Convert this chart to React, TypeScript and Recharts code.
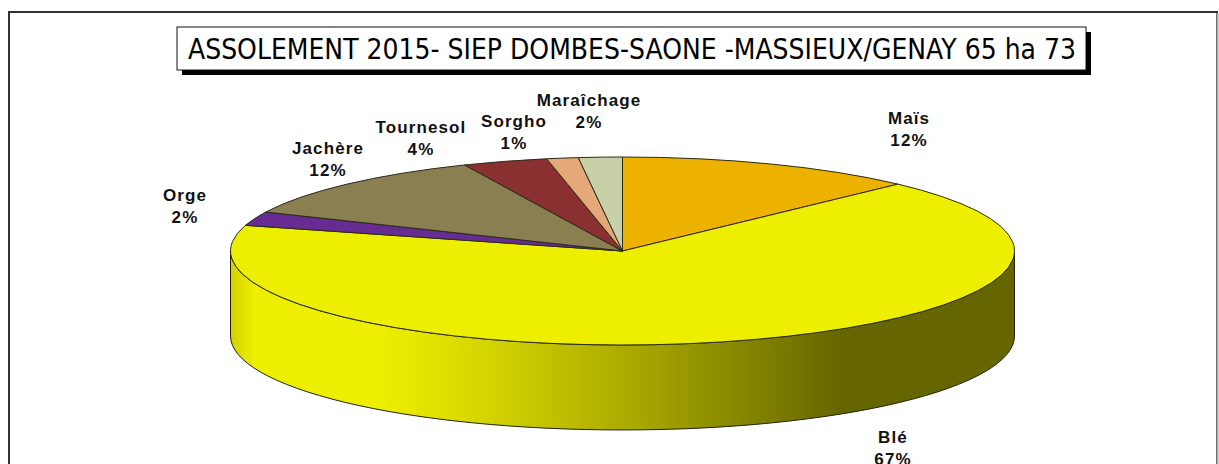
import { Pie, PieChart } from 'recharts';

const categories = ['Maïs', 'Blé', 'Orge', 'Jachère', 'Tournesol', 'Sorgho', 'Maraîchage'];
const shares = [12.4, 67, 2.4, 11.6, 3.5, 1.3, 1.8];
const sliceColors = ['#EDB100', '#EEEE00', '#662C91', '#8A7F50', '#8A3030', '#E5A878', '#C8D0A8'];
const titleText = 'ASSOLEMENT 2015- SIEP DOMBES-SAONE -MASSIEUX/GENAY 65 ha 73';

const data = categories.map((name, i) => ({ name, value: shares[i], fill: sliceColors[i] }));

// where Excel left each data label (centre of the name line)
const labelSpots = [
  [909, 118],
  [893, 437],
  [185, 195],
  [328, 148],
  [421, 127],
  [514, 121],
  [589, 100],
];

const CX = 622.5;
const CY = 251;
const RX = 392;
const RY = 94;
const DEPTH = 85;

const pt = (angle: number, dy = 0) => {
  const a = (angle * Math.PI) / 180;
  return [CX + RX * Math.cos(a), CY + dy - RY * Math.sin(a)];
};

function TopSlice(props: any) {
  const { startAngle, endAngle, fill } = props;
  const [x1, y1] = pt(startAngle);
  const [x2, y2] = pt(endAngle);
  const large = Math.abs(startAngle - endAngle) > 180 ? 1 : 0;
  const d = `M${CX},${CY} L${x1},${y1} A${RX},${RY} 0 ${large} 1 ${x2},${y2} Z`;
  return <path d={d} fill={fill} stroke="#2b2b1a" strokeWidth={1} strokeLinejoin="round" />;
}

// only the part of a slice facing the viewer gets a wall
function WallSlice(props: any) {
  const from = Math.min(props.startAngle, 0);
  const to = Math.max(props.endAngle, -180);
  if (from <= to) return <g />;
  const [x1, y1] = pt(from);
  const [x2, y2] = pt(to);
  const [x3, y3] = pt(to, DEPTH);
  const [x4, y4] = pt(from, DEPTH);
  const d = `M${x1},${y1} A${RX},${RY} 0 0 1 ${x2},${y2} L${x3},${y3} A${RX},${RY} 0 0 0 ${x4},${y4} Z`;
  return <path d={d} fill="url(#wallShade)" stroke="#22220a" strokeWidth={1} />;
}

function SliceLabel(props: any) {
  const { index, name, percent } = props;
  const [x, y] = labelSpots[index];
  const style = { fontFamily: 'Liberation Sans', fontWeight: 700, fontSize: 17, letterSpacing: 1.1, fill: '#111' };
  return (
    <g>
      <text x={x} y={y} dy={6} textAnchor="middle" style={style}>{name}</text>
      <text x={x} y={y + 22} dy={6} textAnchor="middle" style={style}>{`${Math.round(percent * 100)}%`}</text>
    </g>
  );
}

export default function App() {
  return (
    <div style={{ position: 'absolute', left: 0, top: 0, width: 1219, height: 464, background: '#fff' }}>
      <PieChart width={1219} height={464} margin={{ top: 0, right: 0, bottom: 0, left: 0 }}>
        <defs>
          <linearGradient id="wallShade" gradientUnits="userSpaceOnUse" x1={231} y1={0} x2={1014} y2={0}>
            <stop offset="0" stopColor="#D2D200" />
            <stop offset="0.03" stopColor="#EEEE00" />
            <stop offset="0.19" stopColor="#EEEE00" />
            <stop offset="0.3" stopColor="#DADA00" />
            <stop offset="0.5" stopColor="#ACAC00" />
            <stop offset="0.78" stopColor="#666600" />
            <stop offset="1" stopColor="#666600" />
          </linearGradient>
        </defs>
        <rect x={9} y={12} width={1208} height={500} fill="none" stroke="#333" strokeWidth={2} />
        <line x1={1217.5} y1={13} x2={1217.5} y2={464} stroke="#aaa" strokeWidth={2} />
        <rect x={182} y={32} width={909} height={43} fill="#000" />
        <rect x={177} y={27} width={909} height={43} fill="#fff" stroke="#111" strokeWidth={1} />
        <text
          x={188}
          y={59}
          textLength={888}
          lengthAdjust="spacingAndGlyphs"
          style={{ fontFamily: 'DejaVu Sans', fontSize: 28, fill: '#000' }}
        >
          {titleText}
        </text>
        <Pie
          data={data}
          dataKey="value"
          nameKey="name"
          cx={CX}
          cy={CY}
          innerRadius={0}
          outerRadius={RX}
          startAngle={90}
          endAngle={-270}
          shape={WallSlice}
          isAnimationActive={false}
        />
        <Pie
          data={data}
          dataKey="value"
          nameKey="name"
          cx={CX}
          cy={CY}
          innerRadius={0}
          outerRadius={RX}
          startAngle={90}
          endAngle={-270}
          shape={TopSlice}
          label={SliceLabel}
          labelLine={false}
          isAnimationActive={false}
        />
      </PieChart>
    </div>
  );
}
